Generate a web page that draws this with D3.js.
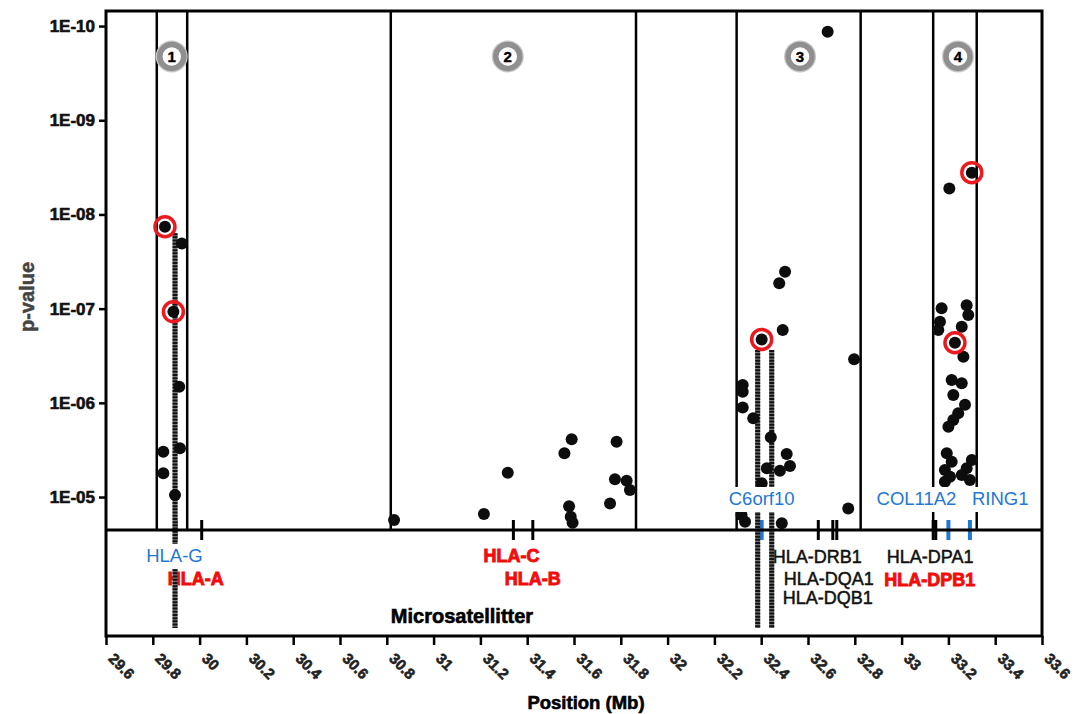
<!DOCTYPE html>
<html>
<head>
<meta charset="utf-8">
<script src="https://cdnjs.cloudflare.com/ajax/libs/d3/7.8.5/d3.min.js"></script>
<style>
  body { margin: 0; background: #fff; }
  svg { display: block; font-family: "Liberation Sans", Arial, sans-serif; }
</style>
</head>
<body>
<div id="graph"></div>
<script>
const xTicks = [29.6, 29.8, 30, 30.2, 30.4, 30.6, 30.8, 31, 31.2, 31.4, 31.6,
                31.8, 32, 32.2, 32.4, 32.6, 32.8, 33, 33.2, 33.4, 33.6];
const yTicks = [1e-10, 1e-9, 1e-8, 1e-7, 1e-6, 1e-5];
const yTickLabels = ["1E-10", "1E-09", "1E-08", "1E-07", "1E-06", "1E-05"];

const regionIds = ["1", "2", "3", "4"];
const regionStart = [29.817, 30.817, 32.295, 33.135];
const regionEnd = [29.947, 31.865, 32.825, 33.321];
const regionMarkPos = [29.881, 31.317, 32.566, 33.241];
const regionMarkP = 2.1e-10;

// SNPs (Mb, p-value)
const snpPos = [
  29.852, 29.924, 29.888, 29.913, 29.845, 29.916, 29.845, 29.895,
  30.831, 31.215, 31.317, 31.590, 31.559, 31.579, 31.586, 31.594, 31.782, 31.775, 31.825, 31.839, 31.754,
  32.502, 32.477, 32.492, 32.402, 32.797, 32.321, 32.321, 32.321, 32.366, 32.441, 32.509, 32.523,
  32.424, 32.480, 32.402, 32.772, 32.316, 32.331, 32.488, 32.684,
  33.300, 33.204, 33.171, 33.278, 33.285, 33.164, 33.157, 33.257, 33.228, 33.264, 33.214, 33.257,
  33.221, 33.271, 33.242, 33.221, 33.200, 33.193, 33.214, 33.300, 33.185, 33.278, 33.207, 33.257,
  33.292, 33.185
];
const snpP = [
  1.35e-8, 2.03e-8, 1.08e-7, 6.75e-7, 3.30e-6, 3.04e-6, 5.6e-6, 9.5e-6,
  1.75e-5, 1.51e-5, 5.52e-6, 2.44e-6, 3.43e-6, 1.25e-5, 1.62e-5, 1.87e-5, 2.59e-6, 6.49e-6, 6.71e-6, 8.43e-6, 1.17e-5,
  4.06e-8, 5.38e-8, 1.69e-7, 2.12e-7, 3.45e-7, 6.47e-7, 7.62e-7, 1.12e-6, 1.46e-6, 2.32e-6, 3.50e-6, 4.69e-6,
  4.96e-6, 5.26e-6, 7.16e-6, 1.32e-5, 1.55e-5, 1.83e-5, 1.90e-5, 1.15e-10,
  3.6e-9, 5.3e-9, 9.9e-8, 9.2e-8, 1.17e-7, 1.38e-7, 1.69e-7, 1.56e-7, 2.30e-7, 3.24e-7, 5.73e-7, 6.21e-7,
  8.26e-7, 1.05e-6, 1.29e-6, 1.52e-6, 1.79e-6, 3.43e-6, 4.21e-6, 4.05e-6, 5.17e-6, 4.95e-6, 6.09e-6, 5.84e-6,
  6.60e-6, 6.88e-6
];

// top hits per region (circled)
const hitPos = [29.852, 29.888, 32.402, 33.300, 33.228];
const hitP = [1.35e-8, 1.08e-7, 2.12e-7, 3.6e-9, 2.30e-7];

// microsatellites
const msPos = [29.895, 32.385, 32.445];
const msP = [1.58e-8, 2.75e-7, 2.75e-7];
const msTitle = "Microsatellitter";

const geneNames = ["HLA-G", "HLA-A", "HLA-C", "HLA-B", "C6orf10", "HLA-DRB1", "HLA-DQA1",
                   "HLA-DQB1", "HLA-DPA1", "HLA-DPB1", "COL11A2", "RING1"];
const genePos = [29.899, 30.009, 31.341, 31.424, 32.402, 32.644, 32.706,
                 32.723, 33.135, 33.146, 33.200, 33.292];
const geneGroup = ["flank", "assoc", "assoc", "assoc", "flank", "hla", "hla",
                   "hla", "hla", "assoc", "flank", "flank"];

function graph() {
  const w = 1075, h = 714;
  const left = 106, right = 1042, top = 11, mid = 530, bottom = 636;

  const colors = { flank: "#1f78d4", assoc: "#f20d0d", hla: "#111" };
  const labelLayout = {
    "HLA-G":    { y: 562, anchor: "middle", dx: -1.5 },
    "HLA-A":    { y: 585, anchor: "middle", dx: -6 },
    "HLA-C":    { y: 562, anchor: "middle", dx: -2 },
    "HLA-B":    { y: 585, anchor: "middle", dx: 0 },
    "C6orf10":  { y: 505, anchor: "middle", dx: 0 },
    "HLA-DRB1": { y: 563, anchor: "middle", dx: -1 },
    "HLA-DQA1": { y: 585, anchor: "middle", dx: -4 },
    "HLA-DQB1": { y: 604, anchor: "middle", dx: -9 },
    "HLA-DPA1": { y: 563, anchor: "middle", dx: -3 },
    "HLA-DPB1": { y: 586, anchor: "middle", dx: -6 },
    "COL11A2":  { y: 505, anchor: "end", dx: 8 },
    "RING1":    { y: 505, anchor: "start", dx: 2 }
  };

  const xScale = d3.scaleLinear()
                   .domain([29.6, 33.6])
                   .range([left, right]);

  const yScale = d3.scaleLog()
                   .domain([Math.pow(10, -10.16), Math.pow(10, -4.65)])
                   .range([top, mid]);

  const svg = d3.select("#graph")
                .append("svg")
                .attr("width", w)
                .attr("height", h);

  // region boundaries
  regionIds.forEach((id, i) => {
    [regionStart[i], regionEnd[i]].forEach(v => {
      svg.append("line")
         .attr("x1", xScale(v)).attr("x2", xScale(v))
         .attr("y1", top).attr("y2", mid)
         .attr("stroke", "#000")
         .attr("stroke-width", 2.5);
    });
  });

  // gene ticks on the mid line
  const genes = geneNames.map((n, i) => ({ name: n, pos: genePos[i], group: geneGroup[i] }));

  svg.selectAll(".gtick")
     .data(genes)
     .enter()
     .append("line")
     .attr("class", "gtick")
     .attr("x1", d => xScale(d.pos))
     .attr("x2", d => xScale(d.pos))
     .attr("y1", mid - 10)
     .attr("y2", mid + 10)
     .attr("stroke", d => d.group == "flank" ? "#1f78d4" : "#000")
     .attr("stroke-width", d => d.group == "flank" ? 4 : 3);

  // gene labels (red / black)
  svg.selectAll(".glabel")
     .data(genes.filter(d => d.group != "flank"))
     .enter()
     .append("text")
     .attr("class", "glabel")
     .attr("x", d => xScale(d.pos) + labelLayout[d.name].dx)
     .attr("y", d => labelLayout[d.name].y)
     .attr("text-anchor", d => labelLayout[d.name].anchor)
     .attr("fill", d => colors[d.group])
     .attr("stroke", d => colors[d.group])
     .attr("stroke-width", d => d.group == "assoc" ? 0.9 : 0.5)
     .style("font-size", "18px")
     .style("font-weight", d => d.group == "assoc" ? "bold" : "normal")
     .text(d => d.name);

  // microsatellite lines
  const ms = msPos.map((p, i) => ({ pos: p, p: msP[i] }));
  ms.forEach(d => {
    svg.append("line")
       .attr("x1", xScale(d.pos)).attr("x2", xScale(d.pos))
       .attr("y1", yScale(d.p)).attr("y2", bottom - 8)
       .attr("stroke", "#777")
       .attr("stroke-width", 5);
    svg.append("line")
       .attr("x1", xScale(d.pos)).attr("x2", xScale(d.pos))
       .attr("y1", yScale(d.p)).attr("y2", bottom - 8)
       .attr("stroke", "#111")
       .attr("stroke-width", 5)
       .attr("stroke-dasharray", "2,1.2");
  });

  svg.append("text")
     .attr("x", 462)
     .attr("y", 623)
     .attr("text-anchor", "middle")
     .attr("stroke", "#000")
     .attr("stroke-width", 0.6)
     .style("font-size", "20px")
     .style("font-weight", "bold")
     .text(msTitle);

  // snp points
  const snps = snpPos.map((p, i) => ({ pos: p, p: snpP[i] }));
  svg.selectAll(".dot")
     .data(snps)
     .enter()
     .append("circle")
     .attr("class", "dot")
     .attr("r", 6)
     .attr("cx", d => xScale(d.pos))
     .attr("cy", d => yScale(d.p))
     .attr("fill", "#0d0d0d");

  const hits = hitPos.map((p, i) => ({ pos: p, p: hitP[i] }));
  svg.selectAll(".hit")
     .data(hits)
     .enter()
     .append("circle")
     .attr("class", "hit")
     .attr("r", 10)
     .attr("cx", d => xScale(d.pos))
     .attr("cy", d => yScale(d.p))
     .attr("fill", "none")
     .attr("stroke", "#ea1a1f")
     .attr("stroke-width", 3.5);

  // flanking gene labels with white box
  genes.filter(d => d.group == "flank").forEach(d => {
    let lay = labelLayout[d.name];
    let t = svg.append("text")
               .attr("x", xScale(d.pos) + lay.dx)
               .attr("y", lay.y)
               .attr("text-anchor", lay.anchor)
               .attr("fill", colors.flank)
               .style("font-size", "18.5px")
               .text(d.name);
    let b = t.node().getBBox();
    svg.insert("rect", () => t.node())
       .attr("x", b.x - 2)
       .attr("y", b.y - 1)
       .attr("width", b.width + 4)
       .attr("height", b.height + 4)
       .attr("fill", "#fff");
  });

  // region markers
  regionIds.forEach((id, i) => {
    let cx = xScale(regionMarkPos[i]), cy = yScale(regionMarkP);
    svg.append("circle")
       .attr("cx", cx).attr("cy", cy)
       .attr("r", 12.5)
       .attr("fill", "#fff")
       .attr("stroke", "#c8c8c8")
       .attr("stroke-width", 7);
    svg.append("circle")
       .attr("cx", cx).attr("cy", cy)
       .attr("r", 12)
       .attr("fill", "#fff")
       .attr("stroke", "#8f8f8f")
       .attr("stroke-width", 5.5);
    svg.append("text")
       .attr("x", cx).attr("y", cy + 5.5)
       .attr("text-anchor", "middle")
       .attr("stroke", "#000")
       .attr("stroke-width", 0.4)
       .style("font-size", "15px")
       .style("font-weight", "bold")
       .text(id);
  });

  // frame
  svg.append("rect")
     .attr("x", left).attr("y", top)
     .attr("width", right - left)
     .attr("height", bottom - top)
     .attr("fill", "none")
     .attr("stroke", "#000")
     .attr("stroke-width", 3);

  svg.append("line")
     .attr("x1", left).attr("x2", right)
     .attr("y1", mid).attr("y2", mid)
     .attr("stroke", "#000")
     .attr("stroke-width", 3);

  const yAxis = d3.axisLeft()
                  .scale(yScale)
                  .tickValues(yTicks)
                  .tickSize(7)
                  .tickPadding(4)
                  .tickFormat((d, i) => yTickLabels[i]);

  const gy = svg.append("g")
                .attr("id", "y-axis")
                .attr("transform", `translate(${left}, 0)`)
                .call(yAxis);
  gy.select(".domain").remove();
  gy.selectAll("line").attr("stroke-width", 2.5);
  gy.selectAll("text")
    .attr("fill", "#111")
    .attr("stroke", "#111")
    .attr("stroke-width", 0.6)
    .style("font-size", "17px")
    .style("font-weight", "bold")
    .style("font-family", "'Liberation Sans', Arial, sans-serif");

  const xAxis = d3.axisBottom()
                  .scale(xScale)
                  .tickValues(xTicks)
                  .tickSize(9)
                  .tickFormat(d => String(d));

  const gx = svg.append("g")
                .attr("id", "x-axis")
                .attr("transform", `translate(0, ${bottom})`)
                .call(xAxis);
  gx.select(".domain").remove();
  gx.selectAll("line").attr("stroke-width", 2.5);
  gx.selectAll("text")
    .attr("x", 0)
    .attr("y", 0)
    .attr("dy", 0)
    .attr("transform", "translate(1, 23.5) rotate(45)")
    .attr("text-anchor", "start")
    .attr("fill", "#222")
    .attr("stroke", "#222")
    .attr("stroke-width", 0.6)
    .style("font-size", "15px")
    .style("font-weight", "bold")
    .style("font-family", "'Liberation Sans', Arial, sans-serif");

  svg.append("text")
     .attr("x", 586)
     .attr("y", 709)
     .attr("text-anchor", "middle")
     .attr("stroke", "#000")
     .attr("stroke-width", 0.6)
     .style("font-size", "18.5px")
     .style("font-weight", "bold")
     .text("Position (Mb)");

  svg.append("text")
     .attr("transform", "translate(34, 297) rotate(-90)")
     .attr("text-anchor", "middle")
     .attr("fill", "#444")
     .attr("stroke", "#444")
     .attr("stroke-width", 0.5)
     .style("font-size", "20px")
     .style("font-weight", "bold")
     .text("p-value");
}

graph();
</script>
</body>
</html>
